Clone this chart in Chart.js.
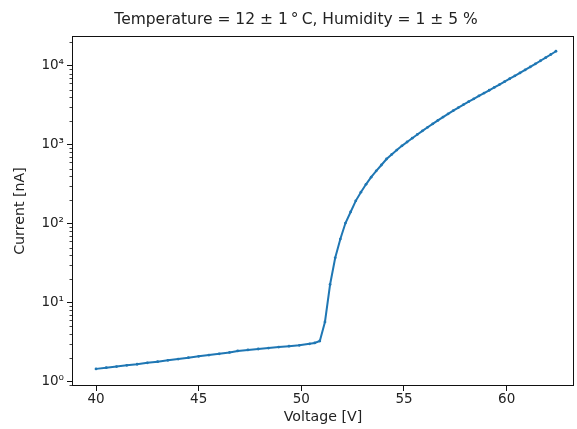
<!DOCTYPE html>
<html><head><meta charset="utf-8">
<script src="https://cdn.jsdelivr.net/npm/chart.js@4/dist/chart.umd.min.js"></script>
<style>html,body{margin:0;padding:0;background:#fff}#wrap{width:577px;height:429px}</style>
</head><body><div id="wrap"><canvas id="c" width="577" height="429"></canvas></div>
<script>
const voltage = [40.0,40.5,41.0,41.5,42.0,42.5,43.0,43.5,44.0,44.5,45.0,45.5,46.0,46.5,46.9,47.4,47.9,48.4,48.9,49.4,49.9,50.4,50.65,50.9,
  51.15,51.4,51.65,51.9,52.15,52.4,52.65,52.9,53.15,53.4,53.65,53.9,54.15,54.4,54.65,54.9,55.15,55.4,55.65,55.9,56.15,56.4,56.65,56.9,
  57.15,57.4,57.65,57.9,58.15,58.4,58.65,58.9,59.15,59.4,59.65,59.9,60.15,60.4,60.65,60.9,61.15,61.4,61.65,61.9,62.15,62.4];
const current = [1.45,1.50,1.55,1.61,1.66,1.73,1.79,1.86,1.93,2.01,2.09,2.17,2.25,2.34,2.45,2.52,2.59,2.66,2.74,2.81,2.88,3.01,3.09,3.27,
  5.7,17,37,64,102,141,195,251,316,389,468,555,661,755,857,970,1086,1213,1352,1503,1667,1845,2037,2244,
  2466,2704,2965,3236,3524,3828,4159,4519,4909,5333,5794,6310,6871,7482,8147,8892,9705,10617,11614,12706,13932,15311];
const xTicks = [40,45,50,55,60];
const yTicks = [1,10,100,1000,10000];
const yTickLabels = ['10\u2070','10\u00B9','10\u00B2','10\u00B3','10\u2074'];
const yMinorTicks = [0.9,2,3,4,5,6,7,8,9,20,30,40,50,60,70,80,90,200,300,400,500,600,700,800,900,
  2000,3000,4000,5000,6000,7000,8000,9000,20000];
const titleText = 'Temperature = 12 \u00B1 1\u2009\u00B0\u2009C, Humidity = 1 \u00B1 5 %';
const xTitle = 'Voltage [V]';
const yTitle = 'Current [nA]';

const FONT = 'DejaVu Sans';
const TXT = '#222';

const framePlugin = {
  id: 'frame',
  afterDraw(chart) {
    const {ctx, chartArea: a, scales: {y}} = chart;
    ctx.save();
    ctx.strokeStyle = '#111';
    ctx.lineWidth = 1;
    const l = Math.round(a.left) + 0.5, t = Math.round(a.top) + 0.5;
    const r = Math.round(a.right) - 0.5, b = Math.round(a.bottom) - 0.5;
    ctx.strokeRect(l, t, r - l, b - t);
    ctx.beginPath();
    yMinorTicks.forEach(v => {
      const py = Math.round(y.getPixelForValue(v)) + 0.5;
      if (py < a.top || py > a.bottom) return;
      ctx.moveTo(l - 3, py);
      ctx.lineTo(l, py);
    });
    ctx.lineWidth = 0.8;
    ctx.stroke();
    // title
    ctx.fillStyle = TXT;
    ctx.font = '15.5px "' + FONT + '"';
    ctx.textAlign = 'center';
    ctx.textBaseline = 'middle';
    ctx.fillText(titleText, 296, 20);
    ctx.restore();
  }
};

new Chart(document.getElementById('c'), {
  type: 'scatter',
  data: {
    datasets: [{
      data: voltage.map((v, i) => ({x: v, y: current[i]})),
      showLine: true,
      borderColor: '#1f77b4',
      backgroundColor: '#1f77b4',
      borderWidth: 2,
      pointRadius: 1.4,
      pointBorderWidth: 0,
      pointHoverRadius: 1.4,
      tension: 0
    }]
  },
  options: {
    responsive: false,
    animation: false,
    devicePixelRatio: 1,
    layout: {padding: {left: 0, right: 3, top: 36, bottom: 0}},
    plugins: {
      legend: {display: false},
      tooltip: {enabled: false},
      title: {display: false}
    },
    scales: {
      x: {
        type: 'linear',
        min: 38.83, max: 63.28,
        afterBuildTicks: s => { s.ticks = xTicks.map(v => ({value: v})); },
        afterFit: s => { s.height = 43; },
        grid: {drawOnChartArea: false, drawTicks: true, tickLength: 5, tickColor: '#111', tickWidth: 1},
        border: {display: false},
        ticks: {color: TXT, font: {family: FONT, size: 13.5}, padding: 0, maxRotation: 0, callback: v => String(v)},
        title: {display: true, text: xTitle, color: TXT, font: {family: FONT, size: 14.2}, padding: {top: 0, bottom: 3}}
      },
      y: {
        type: 'logarithmic',
        min: 0.88, max: 23900,
        afterBuildTicks: s => { s.ticks = yTicks.map(v => ({value: v})); },
        afterFit: s => { s.width = 72; },
        grid: {drawOnChartArea: false, drawTicks: true, tickLength: 5, tickColor: '#111', tickWidth: 1},
        border: {display: false},
        ticks: {color: TXT, font: {family: FONT, size: 13.5}, padding: 3,
          callback: (v) => { const i = yTicks.indexOf(v); return i >= 0 ? yTickLabels[i] : ''; }},
        title: {display: true, text: yTitle, color: TXT, font: {family: FONT, size: 14.2}, padding: {top: 12, bottom: 0}}
      }
    }
  },
  plugins: [framePlugin]
});
</script>
</body></html>
